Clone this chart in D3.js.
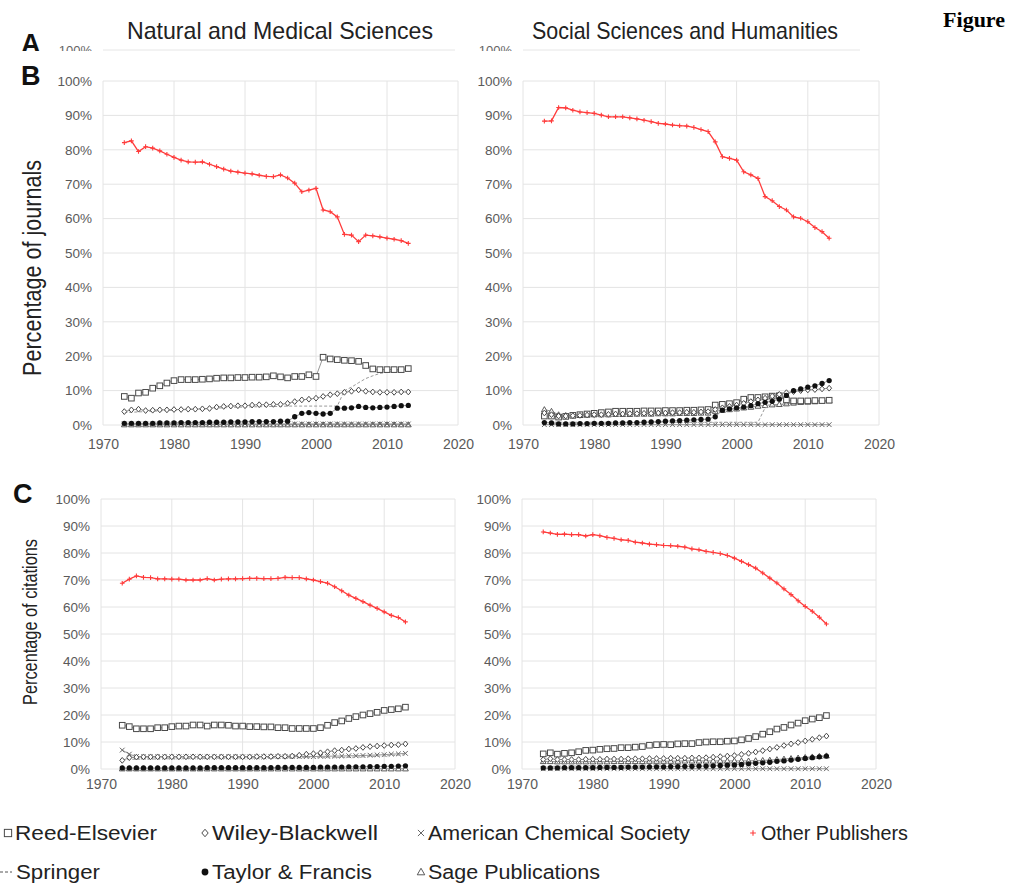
<!DOCTYPE html>
<html><head><meta charset="utf-8">
<script src="https://cdnjs.cloudflare.com/ajax/libs/d3/7.8.5/d3.min.js"></script>
<style>html,body{margin:0;padding:0;background:#fff}svg{display:block}</style>
</head><body>
<script>
// ---------- DATA ----------
const years = [1973,1974,1975,1976,1977,1978,1979,1980,1981,1982,1983,1984,1985,1986,1987,1988,1989,1990,1991,1992,1993,1994,1995,1996,1997,1998,1999,2000,2001,2002,2003,2004,2005,2006,2007,2008,2009,2010,2011,2012,2013];
const xTickLabels = [1970,1980,1990,2000,2010,2020];
const yTickLabels = [0,10,20,30,40,50,60,70,80,90,100];
const seriesNames = ["Reed-Elsevier","Wiley-Blackwell","American Chemical Society","Other Publishers","Springer","Taylor & Francis","Sage Publications"];
const columnTitles = ["Natural and Medical Sciences","Social Sciences and Humanities"];
const rowLabels = ["Percentage of journals","Percentage of citations"];

// B left: Natural and Medical Sciences, journals
const nmsJ_reed = [8.3,7.8,9.3,9.5,10.7,11.4,12.2,12.9,13.2,13.2,13.2,13.3,13.4,13.6,13.7,13.7,13.8,13.8,13.9,13.9,14.0,14.3,14.0,13.7,14.1,14.1,14.6,14.1,19.7,19.2,19.0,18.8,18.7,18.5,17.3,16.3,16.1,16.1,16.1,16.1,16.4];
const nmsJ_wiley = [3.9,4.4,4.6,4.2,4.3,4.4,4.4,4.5,4.5,4.6,4.6,4.7,4.8,5.2,5.4,5.5,5.6,5.6,5.8,5.9,5.9,6.0,6.0,6.3,6.8,7.3,7.5,7.8,8.3,8.8,9.1,9.5,9.8,10.2,9.8,9.6,9.5,9.5,9.5,9.6,9.6];
const nmsJ_acs = [0.3,0.3,0.3,0.3,0.3,0.3,0.3,0.3,0.3,0.3,0.3,0.3,0.3,0.3,0.3,0.3,0.3,0.3,0.3,0.3,0.3,0.3,0.3,0.3,0.3,0.3,0.3,0.3,0.3,0.3,0.3,0.3,0.3,0.3,0.3,0.3,0.3,0.3,0.3,0.3,0.3];
const nmsJ_other = [82.1,82.6,79.5,80.9,80.5,79.7,78.7,77.8,77.0,76.5,76.4,76.5,75.8,75.1,74.4,73.8,73.5,73.2,73.0,72.6,72.3,72.2,72.7,71.8,70.3,67.8,68.3,68.8,62.5,62.0,60.5,55.4,55.2,53.3,55.2,55.0,54.7,54.3,54.0,53.6,52.8];
const nmsJ_springer = [3.6,3.7,3.8,3.9,4.0,4.1,4.2,4.3,4.4,4.5,4.6,4.7,4.8,4.9,5.0,5.1,5.2,5.2,5.3,5.3,5.4,5.4,5.4,5.5,5.5,5.5,5.5,5.5,5.5,5.5,5.5,10.0,11.0,12.3,13.5,14.3,15.0,15.3,15.6,15.8,16.0];
const nmsJ_tf = [0.5,0.5,0.5,0.5,0.5,0.6,0.6,0.6,0.7,0.7,0.7,0.7,0.8,0.8,0.8,0.9,0.9,0.9,1.0,1.0,1.0,1.0,1.1,1.1,2.4,3.4,3.6,3.4,3.2,3.4,4.9,4.9,5.0,5.4,5.1,5.0,5.1,5.2,5.4,5.6,5.7];
const nmsJ_sage = [0.1,0.1,0.1,0.1,0.1,0.1,0.1,0.1,0.1,0.1,0.1,0.1,0.1,0.1,0.1,0.1,0.1,0.1,0.1,0.1,0.1,0.1,0.1,0.1,0.1,0.1,0.1,0.1,0.1,0.1,0.1,0.1,0.1,0.1,0.1,0.1,0.1,0.1,0.1,0.1,0.1];

// B right: Social Sciences and Humanities, journals
const sshJ_reed = [2.6,2.6,2.3,2.5,2.8,3.0,3.2,3.4,3.6,3.8,4.0,4.0,4.0,4.0,4.1,4.1,4.1,4.2,4.2,4.2,4.3,4.3,4.4,4.5,5.8,6.0,6.2,6.5,7.5,8.0,8.0,8.2,8.4,8.5,7.3,7.0,7.0,7.0,7.1,7.1,7.2];
const sshJ_wiley = [3.5,3.0,2.6,2.6,2.7,2.8,2.9,3.0,3.0,3.1,3.2,3.2,3.3,3.3,3.4,3.4,3.5,3.5,3.6,3.6,3.7,3.7,3.8,3.9,4.5,5.0,5.4,5.8,6.3,6.8,7.3,7.8,8.4,8.9,9.4,9.7,10.0,10.2,10.3,10.5,10.7];
const sshJ_acs = [0.1,0.1,0.1,0.1,0.1,0.1,0.1,0.1,0.1,0.1,0.1,0.1,0.1,0.1,0.1,0.1,0.1,0.1,0.1,0.1,0.1,0.1,0.1,0.1,0.1,0.1,0.1,0.1,0.1,0.1,0.1,0.1,0.1,0.1,0.1,0.1,0.1,0.1,0.1,0.1,0.1];
const sshJ_other = [88.35,88.4,92.3,92.2,91.5,91.0,90.8,90.6,90.1,89.6,89.6,89.6,89.3,89.0,88.6,88.2,87.7,87.5,87.2,87.0,86.9,86.5,85.9,85.3,82.3,78.0,77.5,77.0,73.6,72.7,71.7,66.4,65.2,63.5,62.5,60.5,60.1,59.1,57.4,56.2,54.3];
const sshJ_springer = [0.8,0.8,0.8,0.8,0.8,0.8,0.8,0.8,0.8,0.8,0.8,0.8,0.8,0.8,0.8,0.8,0.8,0.8,0.8,0.8,0.8,0.8,0.8,0.8,0.8,0.8,0.8,0.8,0.8,0.8,0.8,5.0,5.5,5.8,6.1,6.3,6.5,6.6,6.7,6.8,6.9];
const sshJ_tf = [0.7,0.6,0.3,0.3,0.3,0.4,0.4,0.5,0.5,0.5,0.6,0.6,0.7,0.7,0.8,0.9,1.0,1.1,1.2,1.3,1.4,1.5,1.6,1.7,2.4,4.3,4.7,5.0,5.2,5.6,6.2,6.6,6.9,7.5,8.6,10.0,10.5,11.0,11.4,12.1,12.9];
const sshJ_sage = [4.5,4.0,3.0,2.8,2.8,2.9,2.9,3.0,3.0,3.0,3.1,3.1,3.1,3.2,3.2,3.2,3.3,3.3,3.3,3.4,3.4,3.4,3.5,3.5,4.0,4.3,4.5,4.7,5.0,5.2,5.5,5.7,5.9,6.0,6.2,6.4,6.6,6.7,6.8,7.0,7.1];

// C left: Natural and Medical Sciences, citations
const nmsC_reed = [16.2,15.7,14.9,14.9,14.9,15.3,15.3,15.7,15.9,15.9,16.3,16.3,15.9,16.3,16.3,16.2,15.9,15.9,15.7,15.7,15.6,15.6,15.3,15.3,15.0,15.0,15.0,15.0,15.3,16.2,17.2,17.8,18.7,19.4,20.0,20.5,21.0,21.7,22.0,22.3,22.9];
const nmsC_wiley = [3.2,4.2,4.4,4.5,4.5,4.5,4.5,4.5,4.5,4.5,4.5,4.5,4.5,4.5,4.5,4.5,4.5,4.5,4.5,4.6,4.6,4.6,4.7,4.7,4.8,5.1,5.5,5.7,6.0,6.4,6.8,7.0,7.4,7.6,8.0,8.3,8.5,8.7,8.9,9.0,9.3];
const nmsC_acs = [7.0,5.5,4.6,4.5,4.5,4.5,4.5,4.5,4.5,4.5,4.5,4.5,4.5,4.5,4.5,4.5,4.5,4.5,4.5,4.5,4.5,4.6,4.6,4.6,4.6,4.6,4.6,4.6,4.7,4.7,4.8,4.8,4.9,4.9,5.0,5.1,5.2,5.3,5.5,5.6,5.8];
const nmsC_other = [68.8,70.3,71.5,71.0,70.9,70.4,70.4,70.3,70.3,70.0,70.0,70.0,70.5,70.0,70.3,70.4,70.4,70.5,70.6,70.6,70.5,70.5,70.6,71.0,70.9,70.9,70.4,70.0,69.4,68.8,67.5,66.0,64.4,63.2,62.0,60.7,59.5,58.2,56.9,56.1,54.5];
const nmsC_springer = [3.5,3.6,3.6,3.7,3.7,3.7,3.8,3.8,3.8,3.9,3.9,3.9,4.0,4.0,4.0,4.0,4.1,4.1,4.1,4.1,4.2,4.2,4.2,4.2,4.2,4.2,4.2,4.2,4.2,4.2,4.2,4.3,4.3,4.4,4.5,4.6,4.7,4.8,5.0,5.1,5.3];
const nmsC_tf = [0.4,0.4,0.4,0.4,0.4,0.4,0.4,0.4,0.4,0.4,0.4,0.4,0.5,0.5,0.5,0.5,0.5,0.5,0.5,0.5,0.5,0.5,0.6,0.6,0.6,0.6,0.6,0.6,0.7,0.7,0.7,0.7,0.8,0.8,0.8,0.9,0.9,1.0,1.0,1.1,1.2];
const nmsC_sage = [0.1,0.1,0.1,0.1,0.1,0.1,0.1,0.1,0.1,0.1,0.1,0.1,0.1,0.1,0.1,0.1,0.1,0.1,0.1,0.1,0.1,0.1,0.1,0.1,0.1,0.1,0.1,0.1,0.1,0.1,0.1,0.1,0.1,0.1,0.1,0.1,0.1,0.1,0.1,0.1,0.1];

// C right: Social Sciences and Humanities, citations
const sshC_reed = [5.6,6.0,5.5,5.8,6.0,6.4,6.9,7.0,7.3,7.5,7.6,7.9,7.9,8.1,8.3,8.8,9.0,9.1,9.0,9.3,9.4,9.4,9.8,10.0,10.1,10.1,10.3,10.4,10.8,11.3,12.0,12.9,13.8,14.8,15.4,16.3,17.0,17.9,18.5,19.0,19.8];
const sshC_wiley = [3.5,3.8,3.5,3.5,3.5,3.5,3.6,3.6,3.6,3.7,3.7,3.7,3.8,3.8,3.8,3.9,3.9,3.9,4.0,4.0,4.0,4.1,4.1,4.2,4.4,4.6,4.8,5.0,5.4,5.8,6.3,6.8,7.4,8.0,8.7,9.3,9.8,10.4,11.0,11.6,12.2];
const sshC_acs = [0.1,0.1,0.1,0.1,0.1,0.1,0.1,0.1,0.1,0.1,0.1,0.1,0.1,0.1,0.1,0.1,0.1,0.1,0.1,0.1,0.1,0.1,0.1,0.1,0.1,0.1,0.1,0.1,0.1,0.1,0.1,0.1,0.1,0.1,0.1,0.1,0.1,0.1,0.1,0.1,0.1];
const sshC_other = [87.8,87.4,86.9,87.0,86.8,86.8,86.3,86.8,86.4,85.8,85.4,84.9,84.7,84.0,83.7,83.3,83.1,82.8,82.7,82.5,82.2,81.5,81.2,80.6,80.2,79.8,79.1,78.1,76.9,75.7,74.4,72.6,70.7,68.9,66.7,64.6,62.3,60.2,58.4,56.2,53.7];
const sshC_springer = [1.0,1.0,1.0,1.1,1.1,1.1,1.2,1.2,1.2,1.3,1.3,1.3,1.4,1.4,1.4,1.5,1.5,1.5,1.6,1.6,1.6,1.7,1.7,1.8,1.8,1.9,1.9,2.0,2.0,2.1,2.2,2.4,2.6,2.9,3.2,3.5,3.8,4.1,4.4,4.6,5.0];
const sshC_tf = [0.4,0.4,0.4,0.5,0.5,0.5,0.5,0.5,0.6,0.6,0.6,0.6,0.7,0.7,0.7,0.8,0.8,0.8,0.9,0.9,1.0,1.0,1.1,1.1,1.2,1.3,1.4,1.5,1.7,1.9,2.1,2.3,2.5,2.8,3.0,3.3,3.6,3.9,4.2,4.5,4.8];
const sshC_sage = [2.8,2.8,2.7,2.7,2.7,2.7,2.7,2.7,2.7,2.7,2.8,2.8,2.8,2.8,2.8,2.9,2.9,2.9,2.9,2.9,3.0,3.0,3.0,3.0,3.0,3.0,3.0,3.0,3.0,3.0,3.1,3.2,3.3,3.5,3.7,3.9,4.1,4.3,4.5,4.7,4.9];

// ---------- LAYOUT ----------
const W = 1014, H = 885;
const svg = d3.select("body").append("svg").attr("width", W).attr("height", H);
const FONT = "'Liberation Sans', Arial, sans-serif";

const panels = [
  {x0:103, x1:458, yTop:81, yBot:425, lblOff:21, series:[nmsJ_reed,nmsJ_wiley,nmsJ_acs,nmsJ_other,nmsJ_springer,nmsJ_tf,nmsJ_sage]},
  {x0:523, x1:879, yTop:81, yBot:425, lblOff:21, series:[sshJ_reed,sshJ_wiley,sshJ_acs,sshJ_other,sshJ_springer,sshJ_tf,sshJ_sage]},
  {x0:101, x1:455, yTop:499, yBot:769, lblOff:17, series:[nmsC_reed,nmsC_wiley,nmsC_acs,nmsC_other,nmsC_springer,nmsC_tf,nmsC_sage]},
  {x0:522, x1:876, yTop:499, yBot:769, lblOff:17, series:[sshC_reed,sshC_wiley,sshC_acs,sshC_other,sshC_springer,sshC_tf,sshC_sage]}
];
// drawing order of series indices (back to front)
const drawOrder = [6, 2, 4, 0, 1, 5, 3];

// ---------- PANEL A REMNANTS (overlapped by B) ----------
svg.append("text").attr("x", 21).attr("y", 53).attr("font-family", FONT).attr("font-weight", "bold")
  .attr("font-size", 27).attr("fill", "#111").text("A");
[{x:92, gx0:103, gx1:455},{x:512, gx0:523, gx1:860}].forEach(p => {
  svg.append("line").attr("x1", p.gx0).attr("x2", p.gx1).attr("y1", 50).attr("y2", 50).attr("stroke", "#e6e6e6");
  svg.append("text").attr("x", p.x).attr("y", 55).attr("text-anchor", "end").attr("font-family", FONT)
    .attr("font-size", 13).attr("fill", "#666").text("100%");
});
// B panel sheet pasted over A
svg.append("rect").attr("x", 0).attr("y", 51).attr("width", 912).attr("height", 420).attr("fill", "#fff");

// Column titles
[{x:280, t:columnTitles[0]},{x:685, t:columnTitles[1]}].forEach(d => {
  svg.append("text").attr("x", d.x).attr("y", 39).attr("text-anchor", "middle").attr("font-family", FONT)
    .attr("font-size", 24).attr("fill", "#222").attr("textLength", 306).attr("lengthAdjust", "spacingAndGlyphs").text(d.t);
});
svg.append("text").attr("x", 1005).attr("y", 27).attr("text-anchor", "end")
  .attr("font-family", "'Liberation Serif', 'Times New Roman', serif").attr("font-weight", "bold")
  .attr("font-size", 22).attr("fill", "#000").text("Figure");

svg.append("text").attr("x", 21).attr("y", 85).attr("font-family", FONT).attr("font-weight", "bold")
  .attr("font-size", 27).attr("fill", "#111").text("B");
svg.append("text").attr("x", 13).attr("y", 503).attr("font-family", FONT).attr("font-weight", "bold")
  .attr("font-size", 27).attr("fill", "#111").text("C");

// Row labels
svg.append("text").attr("transform", "translate(41,268) rotate(-90)").attr("text-anchor", "middle")
  .attr("font-family", FONT).attr("font-size", 25).attr("fill", "#222")
  .attr("textLength", 216).attr("lengthAdjust", "spacingAndGlyphs").text(rowLabels[0]);
svg.append("text").attr("transform", "translate(37,622) rotate(-90)").attr("text-anchor", "middle")
  .attr("font-family", FONT).attr("font-size", 21).attr("fill", "#222")
  .attr("textLength", 166).attr("lengthAdjust", "spacingAndGlyphs").text(rowLabels[1]);

// ---------- MARKERS ----------
const markStroke = "#4a4a4a";
const redCol = "#ff3b3b";
function drawMarker(g, type, x, y, s) {
  s = s || 1;
  if (type === 0) { // square
    g.append("rect").attr("x", x-3.3*s).attr("y", y-3.3*s).attr("width", 6.6*s).attr("height", 6.6*s)
      .attr("fill", "#fff").attr("stroke", markStroke).attr("stroke-width", 1);
  } else if (type === 1) { // diamond
    const r = 3.4*s;
    g.append("path").attr("d", `M${x},${y-r}L${x+r*0.85},${y}L${x},${y+r}L${x-r*0.85},${y}Z`)
      .attr("fill", "#fff").attr("stroke", markStroke).attr("stroke-width", 1);
  } else if (type === 2) { // x
    const r = 2.8*s;
    g.append("path").attr("d", `M${x-r},${y-r}L${x+r},${y+r}M${x-r},${y+r}L${x+r},${y-r}`)
      .attr("stroke", "#666").attr("stroke-width", 1);
  } else if (type === 3) { // plus
    const r = 2.6*s;
    g.append("path").attr("d", `M${x-r},${y}L${x+r},${y}M${x},${y-r}L${x},${y+r}`)
      .attr("stroke", redCol).attr("stroke-width", 1.1);
  } else if (type === 5) { // filled circle
    g.append("circle").attr("cx", x).attr("cy", y).attr("r", 3.1*s).attr("fill", "#111");
  } else if (type === 6) { // triangle
    const r = 3.4*s;
    g.append("path").attr("d", `M${x},${y-r}L${x+r},${y+r*0.75}L${x-r},${y+r*0.75}Z`)
      .attr("fill", "#fff").attr("stroke", markStroke).attr("stroke-width", 0.9);
  }
}

// ---------- PANELS ----------
panels.forEach(p => {
  const x = d3.scaleLinear().domain([1970, 2020]).range([p.x0, p.x1]);
  const y = d3.scaleLinear().domain([0, 100]).range([p.yBot, p.yTop]);
  const g = svg.append("g");

  // gridlines
  g.selectAll(".hg").data(yTickLabels).join("line")
    .attr("x1", p.x0).attr("x2", p.x1).attr("y1", d => y(d)).attr("y2", d => y(d))
    .attr("stroke", "#e4e4e4").attr("stroke-width", 1);
  g.selectAll(".vg").data(xTickLabels).join("line")
    .attr("x1", d => x(d)).attr("x2", d => x(d)).attr("y1", p.yTop).attr("y2", p.yBot)
    .attr("stroke", "#e4e4e4").attr("stroke-width", 1);

  // axes (labels only)
  const ya = d3.axisLeft(y).tickValues(yTickLabels).tickFormat(d => d + "%").tickSize(0).tickPadding(11);
  const yg = g.append("g").attr("transform", `translate(${p.x0},0)`).call(ya);
  yg.select(".domain").remove();
  yg.selectAll("text").attr("font-family", FONT).attr("font-size", 13.5).attr("fill", "#5a5a5a");

  const xa = d3.axisBottom(x).tickValues(xTickLabels).tickFormat(d3.format("d")).tickSize(0).tickPadding(p.lblOff - 7);
  const xg = g.append("g").attr("transform", `translate(0,${p.yBot})`).call(xa);
  xg.select(".domain").remove();
  xg.selectAll("text").attr("font-family", FONT).attr("font-size", 14).attr("fill", "#5a5a5a");

  const line = d3.line().x((d, i) => x(years[i])).y(d => y(d));

  drawOrder.forEach(si => {
    const vals = p.series[si];
    const sg = g.append("g");
    if (si === 4) { // Springer: dashed, no markers
      sg.append("path").attr("d", line(vals)).attr("fill", "none").attr("stroke", "#9a9a9a")
        .attr("stroke-width", 1).attr("stroke-dasharray", "3,2");
      return;
    }
    sg.append("path").attr("d", line(vals)).attr("fill", "none")
      .attr("stroke", si === 3 ? redCol : "#8a8a8a").attr("stroke-width", si === 3 ? 1.3 : 0.9);
    vals.forEach((v, i) => drawMarker(sg, si, x(years[i]), y(v), si === 3 ? 0.9 : 0.85));
  });
});

// ---------- LEGEND ----------
const legendPos = [
  {x:8,   y:833, tx:15,  tl:142},
  {x:205, y:833, tx:212, tl:166},
  {x:421, y:833, tx:428, tl:262},
  {x:753, y:833, tx:761, tl:147},
  {x:6,   y:872, tx:16,  tl:84},
  {x:205, y:872, tx:212, tl:160},
  {x:421, y:872, tx:428, tl:172}
];
seriesNames.forEach((name, i) => {
  const p = legendPos[i];
  if (i === 4) {
    svg.append("path").attr("d", `M${p.x-6},${p.y}L${p.x+6},${p.y}`).attr("stroke", "#555")
      .attr("stroke-width", 1).attr("stroke-dasharray", "3,2");
  } else {
    drawMarker(svg, i, p.x, p.y, 1.1);
  }
  svg.append("text").attr("x", p.tx).attr("y", p.y + 7).attr("font-family", FONT).attr("font-size", 20)
    .attr("fill", "#222").attr("textLength", p.tl).attr("lengthAdjust", "spacingAndGlyphs").text(name);
});
</script>
</body></html>
